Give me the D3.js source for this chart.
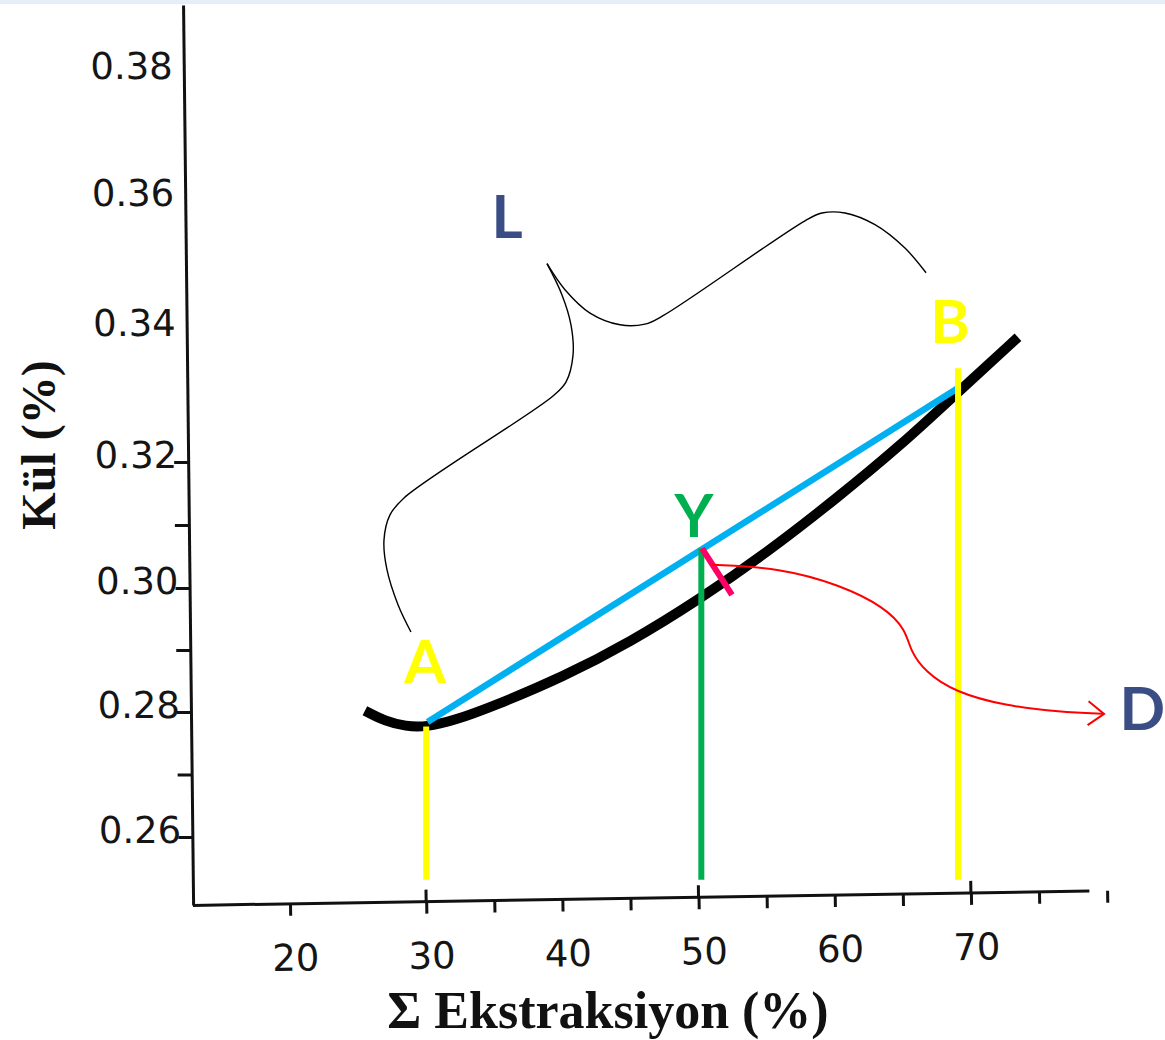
<!DOCTYPE html>
<meta charset="utf-8">
<style>
body{ margin:0; background:#fff; }
svg{ display:block; background:#fff; }
.axis line, .axis path{ stroke:#111; stroke-width:3; fill:none; }
.tick-label{ font-family:"DejaVu Sans", sans-serif; font-size:37px; fill:#151515; }
.tag{ font-family:Lato, "Open Sans", sans-serif; font-weight:700; font-size:60px; }
.title{ font-family:"Liberation Serif", "Times New Roman", serif; fill:#111; }
</style>
<svg id="chart" width="1165" height="1040"></svg>
<script src="https://d3js.org/d3.v7.min.js"></script>
<script>

// ash vs cumulative extraction curve
var curveX = [25.5, 27, 28.5, 30, 32, 35, 40, 45, 50, 55, 60, 65, 69.05, 73.45]
var curveY = [0.2802, 0.2785, 0.2777, 0.2776, 0.2786, 0.2810, 0.2856, 0.2913, 0.2981, 0.3056, 0.3140, 0.3228, 0.3306, 0.3389]

// chord A -> B
var chordX = [30.1, 69.05]
var chordY = [0.2784, 0.3312]

// vertical markers at A, Y, B
var markX = [30, 50.2, 69.05]
var markTop = [0.2777, 0.3063, 0.3342]
var markBottom = 0.2531

// deviation segment (Y -> curve)
var devX = [50.25, 52.45]
var devY = [0.3063, 0.2989]

// arrow to D
var arrowX = [50.98, 55.98, 60.38, 63.69, 65.23, 65.52, 66.62, 68.83, 72.50, 76.53, 79.77]
var arrowY = [0.3037, 0.3032, 0.3005, 0.2969, 0.2932, 0.2900, 0.2865, 0.2832, 0.2810, 0.2800, 0.2797]

// brace L (two arms meeting at the tip)
var braceLeftX = [28.88, 27.93, 27.12, 26.90, 27.34, 28.37, 39.31, 40.26, 40.78, 40.63, 39.97, 38.87]
var braceLeftY = [0.2929, 0.2973, 0.3029, 0.3076, 0.3116, 0.3143, 0.3300, 0.3321, 0.3362, 0.3408, 0.3454, 0.3502]
var braceRightX = [38.87, 40.19, 42.03, 44.23, 46.06, 47.39, 57.81, 59.06, 60.75, 62.95, 65.15, 66.70]
var braceRightY = [0.3502, 0.3462, 0.3426, 0.3408, 0.3409, 0.3422, 0.3568, 0.3580, 0.3580, 0.3562, 0.3526, 0.3488]

// letters
var tagText = ['L', 'B', 'A', 'Y', 'D']
var tagX = [35.93, 68.46, 29.91, 49.66, 80.9]
var tagY = [0.3542, 0.3380, 0.2847, 0.3081, 0.2771]

// axes
var yLabels = [0.26, 0.28, 0.30, 0.32, 0.34, 0.36, 0.38]
var yMajorTicks = [0.26, 0.28, 0.30, 0.32]
var yMinorTicks = [0.27, 0.29, 0.31]
var xLabels = [20, 30, 40, 50, 60, 70]
var xMajorTicks = [30, 50, 70]
var xMinorTicks = [20, 35, 40, 45, 55, 60, 65, 75, 80]

var svg = d3.select('#chart')

svg.append('rect').attr('width', 1165).attr('height', 4).attr('fill', '#e6eef7')

// scanned axis is slightly uneven, so the y scale is piecewise
var x = d3.scaleLinear().domain([20, 70]).range([290, 971])
var y = d3.scaleLinear()
    .domain([0.249, 0.26, 0.28, 0.30, 0.32, 0.34, 0.36, 0.38, 0.3907])
    .range([905, 837, 712, 588, 462, 330, 200, 73, 5])

function lineWith(curve){
  return d3.line().curve(curve)
      .x(function(d){ return x(d[0]) }).y(function(d){ return y(d[1]) })
}
var line = lineWith(d3.curveLinear)

// y axis
var yAxisG = svg.append('g').attr('class', 'axis').attr('transform', 'translate(183,0) skewX(0.64)')
yAxisG.call(d3.axisLeft(y).tickValues(yMajorTicks.concat(yMinorTicks)).tickSize(14).tickSizeOuter(0).tickFormat(''))
yAxisG.selectAll('.yl').data(yLabels).join('text')
    .attr('class', 'tick-label')
    .attr('x', -11).attr('y', function(d){ return y(d) + 6 })
    .attr('text-anchor', 'end')
    .text(d3.format('.2f'))

// x axis
var xAxisG = svg.append('g').attr('class', 'axis').attr('transform', 'rotate(-0.92,217,905) translate(0,905)')
xAxisG.call(d3.axisBottom(x).tickValues(xMinorTicks.concat(xMajorTicks)).tickSize(12).tickFormat(''))
xAxisG.select('.domain').remove()
xAxisG.append('path').attr('d', 'M193,0H' + x(78.7))
xAxisG.selectAll('.up').data(xMajorTicks).join('line')
    .attr('x1', x).attr('x2', x).attr('y1', -12).attr('y2', 0)
xAxisG.selectAll('.xl').data(xLabels).join('text')
    .attr('class', 'tick-label')
    .attr('x', function(d){ return x(d) + 5 }).attr('y', 67)
    .attr('text-anchor', 'middle')
    .text(function(d){ return d })

// titles
svg.append('text').attr('class', 'title')
    .attr('transform', 'translate(55,445) rotate(-90)')
    .attr('text-anchor', 'middle').attr('font-size', 48).attr('font-weight', 700)
    .text('Kül (%)')
svg.append('text').attr('class', 'title')
    .attr('x', 608).attr('y', 1028)
    .attr('text-anchor', 'middle').attr('font-size', 52).attr('font-weight', 700)
    .text('Σ Ekstraksiyon  (%)')

// curve
svg.append('path')
    .attr('d', lineWith(d3.curveBasis)(d3.zip(curveX, curveY)))
    .attr('fill', 'none').attr('stroke', '#000').attr('stroke-width', 10)

// chord
svg.append('path')
    .attr('d', line(d3.zip(chordX, chordY)))
    .attr('stroke', '#00b0f0').attr('stroke-width', 6.5)

// verticals
var markColor = ['#ffff00', '#00b050', '#ffff00']
svg.selectAll('.mark').data(markX).join('line')
    .attr('x1', function(d){ return x(d) }).attr('x2', function(d){ return x(d) })
    .attr('y1', function(d, i){ return y(markTop[i]) }).attr('y2', y(markBottom))
    .attr('stroke', function(d, i){ return markColor[i] }).attr('stroke-width', 6)

// deviation
svg.append('path')
    .attr('d', line(d3.zip(devX, devY)))
    .attr('stroke', '#ff0066').attr('stroke-width', 6)

// arrow
svg.append('defs').append('marker')
    .attr('id', 'head').attr('markerUnits', 'userSpaceOnUse')
    .attr('viewBox', '0 0 20 26').attr('markerWidth', 20).attr('markerHeight', 26)
    .attr('refX', 18).attr('refY', 13).attr('orient', 'auto')
  .append('path').attr('d', 'M2,1L18,13L2,25')
    .attr('fill', 'none').attr('stroke', '#ff0000').attr('stroke-width', 2)
svg.append('path')
    .attr('d', lineWith(d3.curveBasis)(d3.zip(arrowX, arrowY)))
    .attr('fill', 'none').attr('stroke', '#ff0000').attr('stroke-width', 2)
    .attr('marker-end', 'url(#head)')

// brace
svg.selectAll('.brace').data([d3.zip(braceLeftX, braceLeftY), d3.zip(braceRightX, braceRightY)]).join('path')
    .attr('d', lineWith(d3.curveCatmullRom.alpha(0.5)))
    .attr('fill', 'none').attr('stroke', '#000').attr('stroke-width', 1.4)

// letters
var tagColor = ['#3a4d85', '#ffff00', '#ffff00', '#00b050', '#3a4d85']
svg.selectAll('.tag').data(tagText).join('text')
    .attr('class', 'tag')
    .attr('x', function(d, i){ return x(tagX[i]) })
    .attr('y', function(d, i){ return y(tagY[i]) })
    .attr('text-anchor', function(d){ return d == 'D' ? 'start' : 'middle' })
    .attr('fill', function(d, i){ return tagColor[i] })
    .text(function(d){ return d })

</script>
